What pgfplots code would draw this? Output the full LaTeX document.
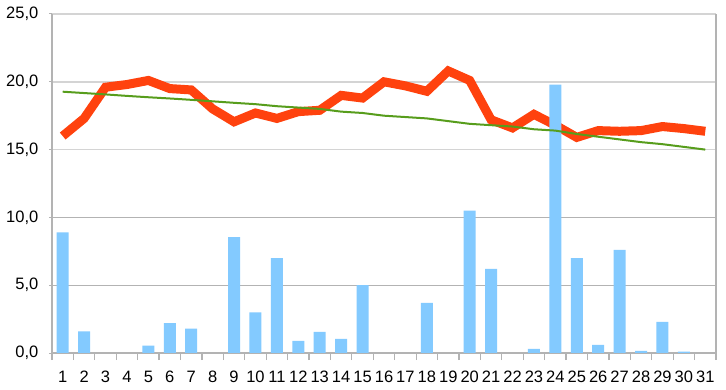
\documentclass[border=0pt]{standalone}
\usepackage{fontspec}
\setmainfont{Liberation Sans}
\usepackage{pgfplots}
\pgfplotsset{compat=1.18}
\definecolor{barblue}{HTML}{83CAFF}
\definecolor{linered}{HTML}{FF420E}
\definecolor{trendgreen}{HTML}{579D1C}
\definecolor{gridlight}{HTML}{D4D4D4}
\definecolor{griddark}{HTML}{B3B3B3}
\begin{document}
\fontsize{16.5bp}{19bp}\selectfont
\begin{tikzpicture}[x=1bp,y=1bp]
\useasboundingbox (-52bp,-37bp) rectangle (674bp,353bp);
\begin{axis}[
  at={(0,0)}, anchor=south west,
  scale only axis, width=664bp, height=339bp,
  xmin=0.5, xmax=31.5, ymin=0, ymax=25,
  axis x line*=bottom, axis y line*=left,
  axis line style={draw=griddark, line width=1.2bp},
  xtick={1,...,31},
  minor xtick={0.5,1.5,...,31.5},
  x tick style={draw=griddark, line width=1.2bp},
  major x tick style={draw=none},
  minor tick length=7bp,
  tick align=outside,
  ytick={0,15,20,25},
  extra y ticks={5,10},
  extra y tick style={ymajorgrids=true, major grid style={draw=griddark, line width=1bp}},
  extra x ticks={31.5}, extra x tick labels={},
  extra x tick style={xmajorgrids=true, major grid style={draw=griddark, line width=1.2bp}, major tick length=7bp},
  ymajorgrids=true,
  major grid style={draw=gridlight, line width=1.6bp},
  y tick style={draw=griddark, line width=1bp},
  major tick length=3bp,
  ticklabel style={font=\fontsize{16.5bp}{19bp}\selectfont},
  xticklabel style={anchor=base, yshift=-26bp, /pgf/number format/.cd, fixed, precision=0, assume math mode=true},
  yticklabel style={anchor=east, xshift=-5bp, /pgf/number format/.cd, fixed, fixed zerofill, precision=1, use comma, assume math mode=true},
]
\addplot[linered, line width=9bp, line join=miter] coordinates {
(1,16.0) (2,17.3) (3,19.6) (4,19.8) (5,20.1) (6,19.5) (7,19.4) (8,18.0) (9,17.05) (10,17.7)
(11,17.3) (12,17.8) (13,17.9) (14,19.0) (15,18.8) (16,20.0) (17,19.7) (18,19.3) (19,20.8) (20,20.1)
(21,17.2) (22,16.6) (23,17.6) (24,16.8) (25,15.9) (26,16.4) (27,16.35) (28,16.4) (29,16.7) (30,16.55) (31,16.35)
};
\addplot[ybar, bar width=12bp, fill=barblue, draw=none] coordinates {
(1,8.9) (2,1.6) (3,0) (4,0) (5,0.55) (6,2.2) (7,1.8) (8,0) (9,8.55) (10,3.0)
(11,7.0) (12,0.9) (13,1.55) (14,1.05) (15,5.0) (16,0) (17,0) (18,3.7) (19,0) (20,10.5)
(21,6.2) (22,0) (23,0.3) (24,19.8) (25,7.0) (26,0.6) (27,7.6) (28,0.15) (29,2.3) (30,0.1) (31,0)
};
\addplot[trendgreen, line width=2bp] coordinates {
(1,19.27) (2,19.17) (3,19.07) (4,18.96) (5,18.86) (6,18.77) (7,18.67) (8,18.56) (9,18.45) (10,18.35)
(11,18.2) (12,18.1) (13,18.0) (14,17.8) (15,17.7) (16,17.5) (17,17.4) (18,17.3) (19,17.1) (20,16.9)
(21,16.8) (22,16.7) (23,16.5) (24,16.4) (25,16.15) (26,15.95) (27,15.75) (28,15.55) (29,15.4) (30,15.2) (31,15.0)
};
\end{axis}
\end{tikzpicture}
\end{document}
